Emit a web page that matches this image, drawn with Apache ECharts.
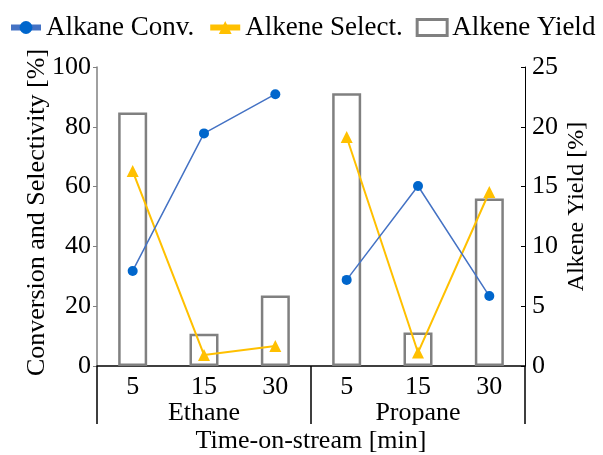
<!DOCTYPE html>
<html>
<head>
<meta charset="utf-8">
<script src="https://cdn.jsdelivr.net/npm/echarts@6/dist/echarts.min.js"></script>
<style>
  html, body { margin: 0; padding: 0; background: #fff; }
  #chart { width: 603px; height: 455px; }
</style>
</head>
<body>
<div id="chart"></div>
<script>
const categories = ['5', '15', '30', '5', '15', '30'];
const groups = ['Ethane', 'Propane'];
const alkaneConv = [31.8, 77.8, 90.9, 28.8, 60.2, 23.4];
const alkeneSelect = [65.2, 3.7, 6.7, 76.6, 4.5, 58.2];
const alkeneYield = [21.2, 2.7, 5.9, 22.8, 2.8, 14.0];

const font = "'Liberation Serif', 'Times New Roman', serif";
const chart = echarts.init(document.getElementById('chart'), null, { renderer: 'canvas' });

// split a series per gas so the line does not run across groups
function part(arr, g) {
  return arr.map((v, i) => (Math.floor(i / 3) === g ? v : null));
}

const convStyle = {
  type: 'line',
  name: 'Alkane Conv.',
  symbol: 'circle',
  symbolSize: 10,
  lineStyle: { color: '#4472C4', width: 1.5 },
  itemStyle: { color: '#0066CC' },
  z: 3
};
const selStyle = {
  type: 'line',
  name: 'Alkene Select.',
  symbol: 'triangle',
  symbolSize: 12,
  lineStyle: { color: '#FFC000', width: 2 },
  itemStyle: { color: '#FFC000' },
  z: 2
};

const option = {
  backgroundColor: '#fff',
  textStyle: { fontFamily: font, color: '#000' },
  legend: {
    left: 8,
    top: 14,
    width: 595,
    padding: 0,
    itemGap: 13,
    itemWidth: 30,
    itemHeight: 16,
    textStyle: { fontFamily: font, fontSize: 27, color: '#000' },
    data: [
      { name: 'Alkane Conv.', lineStyle: { width: 6, color: '#4472C4' } },
      { name: 'Alkene Select.', lineStyle: { width: 6, color: '#FFC000' } },
      { name: 'Alkene Yield', icon: 'rect', itemStyle: { color: '#fff', borderColor: '#808080', borderWidth: 3 } }
    ]
  },
  grid: {
    left: 97,
    right: 78,
    top: 67,
    bottom: 89,
    outerBoundsMode: 'none'
  },
  xAxis: [
    {
      type: 'category',
      data: categories,
      axisLine: { lineStyle: { color: '#000', width: 1.5 } },
      axisTick: { length: 4, lineStyle: { color: '#808080' } },
      axisLabel: { margin: 8, fontSize: 26, fontFamily: font, color: '#000' }
    },
    {
      type: 'category',
      data: groups,
      position: 'bottom',
      axisLine: { show: true, lineStyle: { color: 'rgba(0,0,0,0)' } },
      axisTick: { show: true, interval: 0, length: 58, lineStyle: { color: '#000', width: 1.5 } },
      axisLabel: { margin: 34, fontSize: 26, fontFamily: font, color: '#000' },
      name: 'Time-on-stream [min]',
      nameLocation: 'middle',
      nameGap: 62,
      nameMoveOverlap: false,
      nameTextStyle: { fontSize: 26, fontFamily: font, color: '#000' }
    }
  ],
  yAxis: [
    {
      type: 'value',
      min: 0,
      max: 100,
      interval: 20,
      name: 'Conversion and Selectivity [%]',
      nameLocation: 'middle',
      nameGap: 47,
      nameMoveOverlap: false,
      nameTextStyle: { fontSize: 26, fontFamily: font, color: '#000', padding: [0, 0, 0, 8] },
      axisLine: { show: true, lineStyle: { color: '#808080', width: 1.5 } },
      axisTick: { show: true, length: 4, lineStyle: { color: '#808080' } },
      axisLabel: { margin: 6, fontSize: 26, fontFamily: font, color: '#000' },
      splitLine: { show: false }
    },
    {
      type: 'value',
      min: 0,
      max: 25,
      interval: 5,
      position: 'right',
      name: 'Alkene Yield [%]',
      nameLocation: 'middle',
      nameGap: 40,
      nameMoveOverlap: false,
      nameTextStyle: { fontSize: 24, fontFamily: font, color: '#000', padding: [0, 0, 0, 20] },
      axisLine: { show: true, lineStyle: { color: '#000', width: 1 } },
      axisTick: { show: true, inside: true, length: 4, lineStyle: { color: '#000' } },
      axisLabel: { margin: 7, fontSize: 26, fontFamily: font, color: '#000' },
      splitLine: { show: false }
    }
  ],
  series: [
    {
      name: 'Alkene Yield',
      type: 'bar',
      xAxisIndex: 0,
      yAxisIndex: 1,
      barWidth: 29,
      data: alkeneYield,
      itemStyle: { color: '#fff', borderColor: '#808080', borderWidth: 2.5 },
      z: 1
    },
    Object.assign({}, convStyle, { data: part(alkaneConv, 0) }),
    Object.assign({}, convStyle, { data: part(alkaneConv, 1) }),
    Object.assign({}, selStyle, { data: part(alkeneSelect, 0) }),
    Object.assign({}, selStyle, { data: part(alkeneSelect, 1) })
  ]
};

chart.setOption(option);
</script>
</body>
</html>
